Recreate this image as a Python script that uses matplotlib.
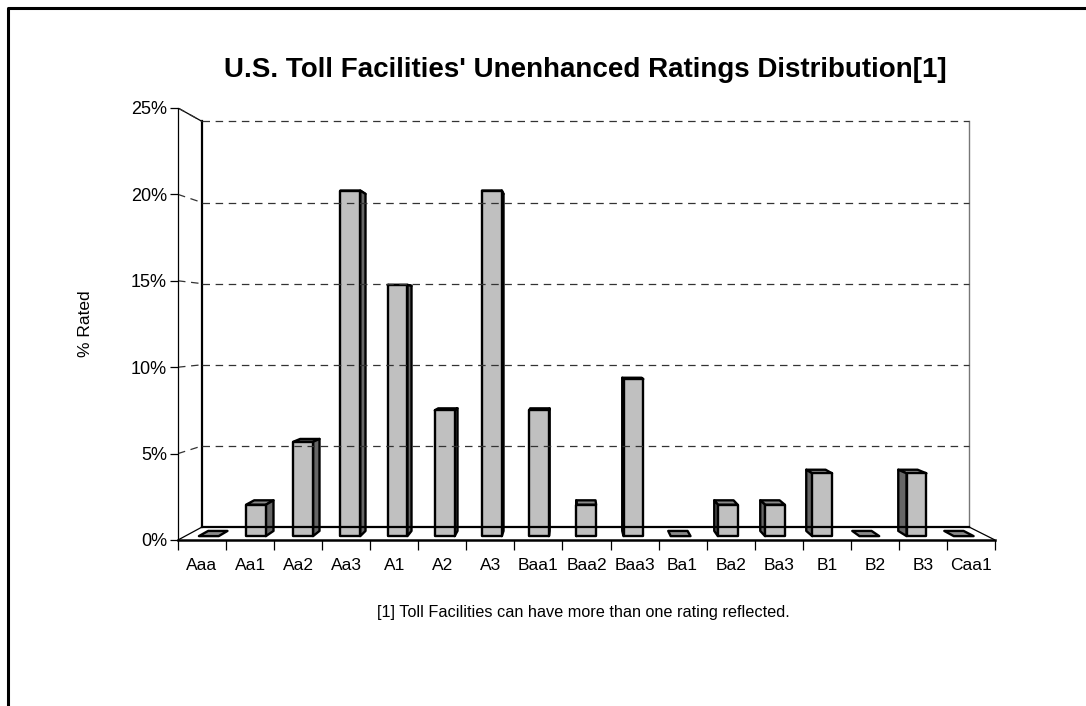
import matplotlib
matplotlib.use("Agg")
import matplotlib.pyplot as plt
from matplotlib.patches import Polygon
from matplotlib.lines import Line2D

plt.rcParams["font.family"] = ["Liberation Sans", "DejaVu Sans"]

ratings = ["Aaa", "Aa1", "Aa2", "Aa3", "A1", "A2", "A3", "Baa1", "Baa2", "Baa3",
           "Ba1", "Ba2", "Ba3", "B1", "B2", "B3", "Caa1"]
pct_rated = [0.0, 1.85, 5.56, 20.37, 14.81, 7.41, 20.37, 7.41, 1.85, 9.26,
             0.0, 1.85, 1.85, 3.70, 0.0, 3.70, 0.0]
y_ticks = [0, 5, 10, 15, 20, 25]

title = "U.S. Toll Facilities' Unenhanced Ratings Distribution[1]"
footnote = "[1] Toll Facilities can have more than one rating reflected."

# fake perspective: back plane is shrunk and shifted relative to the front plane
SCALE = 0.939
OFF_X, OFF_Y = 0.50, 0.75
D_FRONT, D_BACK = 0.3, 0.7
BAR_W = 0.42

FRONT = "#c0c0c0"
TOP = "#8a8a8a"
SIDE = "#666666"


def proj(x, v, d):
    k = 1 - d * (1 - SCALE)
    return (x * k + d * OFF_X, v * k + d * OFF_Y)


fig = plt.figure(figsize=(10.86, 7.06), dpi=100)
ax = fig.add_axes([178 / 1086, 166 / 706, 817 / 1086, 432 / 706])
n = len(ratings)
ax.set_xlim(0, n)
ax.set_ylim(0, 25)

# walls and floor
ymax = y_ticks[-1]
ax.add_line(Line2D(*zip(proj(0, 0, 1), proj(0, ymax, 1)), color="black", lw=1.6))
ax.add_line(Line2D(*zip(proj(n, 0, 1), proj(n, ymax, 1)), color="#777777", lw=1.0))
ax.add_line(Line2D(*zip(proj(0, ymax, 0), proj(0, ymax, 1)), color="black", lw=0.9))
ax.add_line(Line2D(*zip(proj(0, 0, 0), proj(0, 0, 1)), color="black", lw=0.9))
ax.add_line(Line2D(*zip(proj(0, 0, 1), proj(n, 0, 1)), color="black", lw=1.6))
ax.add_line(Line2D(*zip(proj(n, 0, 1), proj(n, 0, 0)), color="black", lw=0.9))
for v in y_ticks[1:]:
    ax.add_line(Line2D(*zip(proj(0, v, 1), proj(n, v, 1)), color="#333333",
                       lw=0.9, dashes=(6, 4.5)))
    ax.add_line(Line2D(*zip(proj(0, v, 0), proj(0, v, 1)), color="#333333",
                       lw=0.9, dashes=(6, 4.5)))

# bars
vanish = OFF_X / (1 - SCALE)
for i, val in enumerate(pct_rated):
    x0 = i + 0.5 - BAR_W / 2
    x1 = i + 0.5 + BAR_W / 2
    top = [proj(x0, val, D_FRONT), proj(x1, val, D_FRONT),
           proj(x1, val, D_BACK), proj(x0, val, D_BACK)]
    xs = x1 if i + 0.5 < vanish else x0
    side = [proj(xs, 0, D_FRONT), proj(xs, val, D_FRONT),
            proj(xs, val, D_BACK), proj(xs, 0, D_BACK)]
    front = [proj(x0, 0, D_FRONT), proj(x1, 0, D_FRONT),
             proj(x1, val, D_FRONT), proj(x0, val, D_FRONT)]
    kw = dict(edgecolor="black", lw=1.7, joinstyle="round", clip_on=False)
    ax.add_patch(Polygon(top, facecolor=TOP, **kw))
    if val > 0:
        ax.add_patch(Polygon(side, facecolor=SIDE, **kw))
        ax.add_patch(Polygon(front, facecolor=FRONT, **kw))

# axes
for s in ["top", "right"]:
    ax.spines[s].set_visible(False)
ax.spines["left"].set_linewidth(0.9)
ax.spines["bottom"].set_linewidth(1.8)
ax.set_facecolor("none")
ax.set_yticks(y_ticks)
ax.set_yticklabels([f"{t}%" for t in y_ticks], fontsize=13)
ax.tick_params(axis="y", length=6, width=0.9, pad=2)
ax.set_xticks(range(n + 1))
ax.set_xticklabels([])
ax.set_xticks([i + 0.5 for i in range(n)], minor=True)
ax.set_xticklabels(ratings, minor=True, fontsize=12.5)
ax.tick_params(axis="x", which="major", length=7, width=0.9)
ax.tick_params(axis="x", which="minor", length=0, pad=13)
ax.set_ylabel("% Rated", fontsize=12.5, labelpad=27)

fig.text(585 / 1086, 1 - 70 / 706, title, ha="center", va="center",
         fontsize=20, fontweight="bold")
fig.text(583 / 1086, 1 - 612 / 706, footnote, ha="center", va="center",
         fontsize=11.7)

# frame around the picture (top and left only)
fig.add_artist(Line2D([7.5 / 1086, 7.5 / 1086, 1], [0, 1 - 7.5 / 706, 1 - 7.5 / 706],
                      transform=fig.transFigure, color="black", lw=2.2))

fig.savefig("out.png", dpi=100)
